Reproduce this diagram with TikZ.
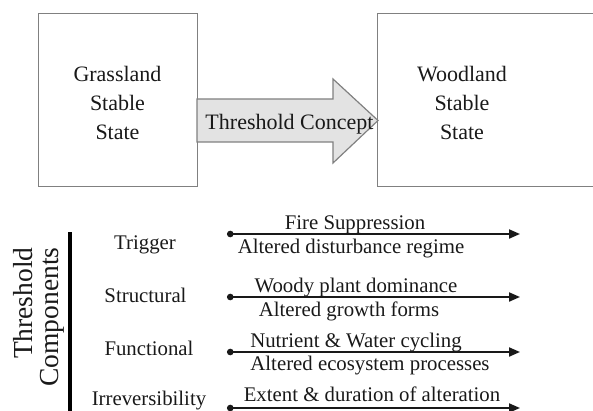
\documentclass[tikz,border=0pt]{standalone}
\usepackage{fontspec}
\setmainfont{Liberation Serif}
\usetikzlibrary{arrows.meta}
\begin{document}
\begin{tikzpicture}
  [x=1pt,y=1pt,
   box/.style={draw=black!50,line width=1.2pt,minimum width=159pt,minimum height=173pt,inner sep=0pt},
   big/.style={font=\fontsize{22}{29}\selectfont,align=center,text=black!90},
   small/.style={font=\fontsize{20.8}{24}\selectfont,text=black!90,anchor=base,inner sep=0pt},
   comp/.style={line width=2pt,black!90,{Circle[length=6.5pt]}-{Triangle[length=11pt,width=9pt]}}]
  \useasboundingbox (0,0) rectangle (593,410);
  \clip (0,0) rectangle (593,410);
  % the two stable states
  \node[box,anchor=south west] (grass) at (38,223) {};
  \node[box,anchor=south west,minimum width=243pt] (wood) at (377,223) {};
  \node[big] (grasstxt) at (117.5,307.5) {Grassland\\Stable\\State};
  \node[big] (woodtxt) at (462,307.5) {Woodland\\Stable\\State};
  \draw[draw=black!50,fill=black!11,line width=1.2pt]
    (197,311) -- (333,311) -- (333,331) -- (378,289.5) -- (333,247) -- (333,268) -- (197,268) -- cycle;
  \node[big,anchor=base,inner sep=0pt] (concept) at (289.5,280) {Threshold Concept};
  % threshold components
  \node[rotate=90,align=right,text=black!90,font=\fontsize{27.5}{26}\selectfont] (tcomp) at (39,93) {Threshold\\Components};
  \draw[line width=3.2pt,black] (70,178) -- (70,-5);
  \node[small] (trig) at (145,161) {Trigger};
  \node[small] (struc) at (145.5,107.3) {Structural};
  \node[small] (func) at (149,55) {Functional};
  \node[small] (irr) at (149,5) {Irreversibility};
  \node[small] (fire) at (355,180.7) {Fire Suppression};
  \node[small] (dist) at (351,157) {Altered disturbance regime};
  \node[small] (woody) at (356,118) {Woody plant dominance};
  \node[small] (growth) at (349,94) {Altered growth forms};
  \node[small] (nutr) at (356,63) {Nutrient \& Water cycling};
  \node[small] (eco) at (370,40) {Altered ecosystem processes};
  \node[small] (ext) at (372,8.3) {Extent \& duration of alteration};
  \foreach \r/\y in {trig/176,struc/113,func/58,irr/2}
    {\coordinate (\r s) at (227,\y);
     \coordinate (\r e) at (520,\y);}
  \foreach \r in {trig,struc,func,irr}
    \draw[comp] (\r s) -- (\r e);
\end{tikzpicture}
\end{document}
